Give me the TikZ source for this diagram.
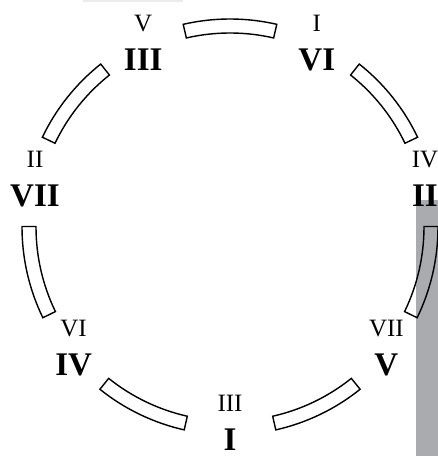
\documentclass[tikz,border=0pt]{standalone}
\usepackage{fontspec}
\setmainfont{Liberation Serif}
\usetikzlibrary{calc, positioning}
\definecolor{scangray}{RGB}{170,171,175}
\definecolor{stripgray}{RGB}{236,236,236}

\begin{document}
\begin{tikzpicture}[
    x=0.02cm, y=0.02cm,
    seg/.style={draw=black, line width=0.8pt, line join=miter},
    minor/.style={font=\fontsize{14.2}{14.2}\selectfont, anchor=base, inner sep=0pt},
    major/.style={font=\fontsize{18.8}{18.8}\selectfont\bfseries, anchor=base, inner sep=0pt}
]
% Frame
\useasboundingbox (-230,-229) rectangle (208,227);

% Gray margins
\fill[scangray] (186,27) rectangle (208,-229);
\fill[stripgray] (-147,227) rectangle (-47,225.3);

% Ring segments
\foreach \k in {0,...,6} {
  \pgfmathsetmacro{\ang}{90+\k*360/7}
  \draw[seg] (\ang-13:194) arc[start angle=\ang-13, end angle=\ang+13, radius=194]
     -- (\ang+13:208) arc[start angle=\ang+13, end angle=\ang-13, radius=208] -- cycle;
}

% Labels in the gaps
\foreach \sm/\bg [count=\i] in {I/VI, V/III, II/VII, VI/IV, III/I, VII/V, IV/II} {
  \pgfmathsetmacro{\ang}{64.2857+(\i-1)*360/7}
  \coordinate (p\i) at ($(0,5)+(\ang:200)$);
  \node[minor] (sm\i) at ($(p\i)+(0,10)$) {\sm};
  \node[major] (bg\i) at ($(p\i)+(0,-29)$) {\bg};
}
\end{tikzpicture}
\end{document}
